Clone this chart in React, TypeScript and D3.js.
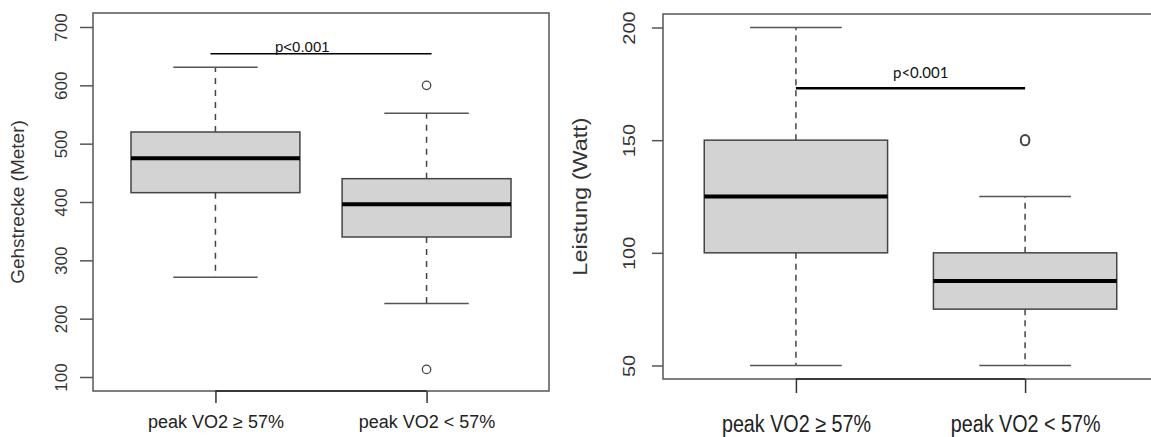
import React, { useRef, useEffect } from 'react';
import * as d3 from 'd3';

const groups = ['peak VO2 ≥ 57%', 'peak VO2 < 57%'];

// five-number summaries: min, q1, median, q3, max
const walkStats = [
  [271, 416, 475, 520, 631],
  [226, 340, 396, 440, 552],
];
const walkOutliers = [[], [600, 113]];
const walkTicks = [100, 200, 300, 400, 500, 600, 700];

const powerStats = [
  [50, 100, 125, 150, 200],
  [50, 75, 87.5, 100, 125],
];
const powerOutliers = [[], [150]];
const powerTicks = [50, 100, 150, 200];

const pLabel = 'p<0.001';
const walkP = 654;
const powerP = 173;

const W = 1151;
const H = 437;

const drawPanel = (svg, o) => {
  const g = svg.append('g');
  const lo = o.ticks[0];
  const hi = o.ticks[o.ticks.length - 1];
  const pad = (hi - lo) * 0.04;

  const x = d3.scaleLinear().domain([0.42, 2.58]).range([o.left, o.right]);
  const y = d3.scaleLinear().domain([lo - pad, hi + pad]).range([o.bottom, o.top]);
  const half = x(1.4) - x(1);
  const cap = x(1.2) - x(1);

  // frame
  g.append('rect')
    .attr('x', o.left).attr('y', o.top)
    .attr('width', o.right - o.left).attr('height', o.bottom - o.top)
    .attr('fill', 'none').attr('stroke', '#555').attr('stroke-width', 1.5);

  o.stats.forEach((s, i) => {
    const cx = x(i + 1);
    const [mn, q1, md, q3, mx] = s;
    const bg = g.append('g');
    bg.selectAll('line.wh')
      .data([[q3, mx], [q1, mn]])
      .join('line')
      .attr('x1', cx).attr('x2', cx)
      .attr('y1', d => y(d[0])).attr('y2', d => y(d[1]))
      .attr('stroke', '#444').attr('stroke-width', 1.5)
      .attr('stroke-dasharray', o.dash);
    bg.selectAll('line.cap')
      .data([mn, mx])
      .join('line')
      .attr('x1', cx - cap).attr('x2', cx + cap)
      .attr('y1', d => y(d)).attr('y2', d => y(d))
      .attr('stroke', '#555').attr('stroke-width', 1.5);
    bg.append('rect')
      .attr('x', cx - half).attr('y', y(q3))
      .attr('width', half * 2).attr('height', y(q1) - y(q3))
      .attr('fill', '#d3d3d3').attr('stroke', '#444').attr('stroke-width', 1.5);
    bg.append('line')
      .attr('x1', cx - half).attr('x2', cx + half)
      .attr('y1', y(md)).attr('y2', y(md))
      .attr('stroke', '#000').attr('stroke-width', 4);
    bg.selectAll('ellipse')
      .data(o.outliers[i])
      .join('ellipse')
      .attr('cx', cx).attr('cy', d => y(d))
      .attr('rx', o.orx).attr('ry', o.ory)
      .attr('fill', 'none').attr('stroke', '#444').attr('stroke-width', o.ow);
  });

  // y axis
  const ya = g.append('g')
    .attr('transform', `translate(${o.left},0)`)
    .call(d3.axisLeft(y).tickValues(o.ticks).tickSize(o.yTick).tickSizeOuter(0));
  ya.select('.domain').remove();
  ya.selectAll('line').attr('stroke', '#555').attr('stroke-width', 1.5);
  ya.attr('font-family', 'Liberation Sans, Arial, sans-serif').attr('font-size', o.tickFont);
  ya.selectAll('text')
    .attr('x', null).attr('dy', null)
    .attr('fill', '#333')
    .attr('text-anchor', 'middle')
    .attr('transform', `translate(${-o.yLabOff},0) scale(${o.sx},1) rotate(-90)`);

  // x axis
  const xa = g.append('g')
    .attr('transform', `translate(0,${o.bottom})`)
    .call(d3.axisBottom(x).tickValues([1, 2]).tickSize(o.xTick).tickSizeOuter(0)
      .tickFormat(d => groups[d - 1]));
  xa.select('.domain').remove();
  xa.append('line')
    .attr('x1', x(1)).attr('x2', x(2))
    .attr('stroke', '#222').attr('stroke-width', 1.5);
  xa.selectAll('.tick line').attr('stroke', '#333').attr('stroke-width', 1.5);
  xa.attr('font-family', 'Liberation Sans, Arial, sans-serif').attr('font-size', o.labFont);
  xa.selectAll('text')
    .attr('y', null).attr('dy', null)
    .attr('fill', '#222')
    .attr('transform', `translate(0,${o.xLabOff}) scale(${o.sx},1)`);

  // y title
  g.append('text')
    .attr('transform', `translate(${o.titleX},${(o.top + o.bottom) / 2}) scale(${o.sx},1) rotate(-90)`)
    .attr('text-anchor', 'middle')
    .attr('font-family', 'Liberation Sans, Arial, sans-serif')
    .attr('font-size', o.titleFont)
    .attr('fill', '#333')
    .text(o.title);

  // significance bar
  g.append('line')
    .attr('x1', x(1) - o.pExt).attr('x2', x(2) + o.pExt)
    .attr('y1', y(o.p)).attr('y2', y(o.p))
    .attr('stroke', '#000').attr('stroke-width', o.pw);
  g.append('text')
    .attr('x', o.pTextX).attr('y', y(o.p) - o.pTextGap)
    .attr('font-family', o.pFamily)
    .attr('font-size', o.pFont)
    .attr('fill', '#111')
    .text(pLabel);
};

const App = () => {
  const svgRef = useRef(null);

  useEffect(() => {
    const svg = d3.select(svgRef.current);
    svg.selectAll('*').remove();

    drawPanel(svg, {
      left: 93, right: 549, top: 13, bottom: 391,
      stats: walkStats, outliers: walkOutliers, ticks: walkTicks,
      title: 'Gehstrecke (Meter)', p: walkP,
      dash: '6,6', orx: 4.2, ory: 4.2, ow: 1.3,
      yTick: 13, xTick: 12, yLabOff: 26, xLabOff: 37, titleX: 24,
      tickFont: 17, labFont: 18, titleFont: 19, sx: 1,
      pExt: 5, pw: 1.5, pTextX: 275, pTextGap: 2,
      pFamily: 'Liberation Sans, Arial, sans-serif', pFont: 15,
    });

    drawPanel(svg, {
      left: 663, right: 1158, top: 14, bottom: 379,
      stats: powerStats, outliers: powerOutliers, ticks: powerTicks,
      title: 'Leistung (Watt)', p: powerP,
      dash: '6,5', orx: 4.3, ory: 5.2, ow: 2,
      yTick: 11, xTick: 14, yLabOff: 28, xLabOff: 53, titleX: 587,
      tickFont: 20, labFont: 23.5, titleFont: 23.5, sx: 0.84,
      pExt: 0, pw: 2.5, pTextX: 893, pTextGap: 10,
      pFamily: 'Lato, Open Sans, sans-serif', pFont: 15,
    });
  }, []);

  return (
    <svg
      ref={svgRef}
      width={W}
      height={H}
      style={{ position: 'absolute', left: 0, top: 0, background: '#fff' }}
    />
  );
};

export default App;
